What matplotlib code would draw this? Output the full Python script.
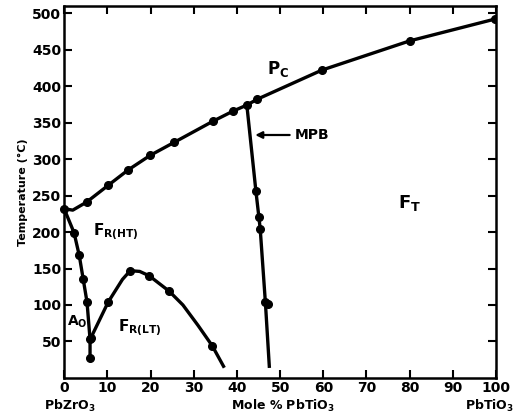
import numpy as np
import matplotlib.pyplot as plt

# Pc / ferroelectric boundary (Curie line)
curie_x = [0, 2, 5.2, 10.2, 14.8, 19.9, 25.5, 34.5, 39.2, 42.3, 44.7, 59.7, 80.0, 99.8]
curie_t = [232, 230, 241, 264, 285, 305, 323, 352, 366, 374, 382, 422, 462, 492]
curie_dots_x = [5.2, 10.2, 14.8, 19.9, 25.5, 34.5, 39.2, 42.3, 44.7, 59.7, 80.0, 99.8]
curie_dots_t = [241, 264, 285, 305, 323, 352, 366, 374, 382, 422, 462, 492]

# antiferroelectric / ferroelectric boundary
ao_x = [0, 2.3, 3.5, 4.4, 5.3, 6.0, 6.0]
ao_t = [232, 199, 168, 136, 104, 53, 28]

# FR(HT) / FR(LT) boundary
lt_x = [6.2, 10.2, 13.5, 15.3, 17.5, 19.7, 24.3, 27.5, 31.0, 34.3, 36.9]
lt_t = [55, 104, 135, 147, 146, 140, 119, 100, 72, 44, 16]
lt_dots_x = [6.2, 10.2, 15.3, 19.7, 24.3, 34.3]
lt_dots_t = [55, 104, 147, 140, 119, 44]

# morphotropic phase boundary
mpb_x = [42.3, 44.4, 45.1, 45.4, 46.6, 47.5]
mpb_t = [374, 256, 220, 204, 103, 16]
mpb_dots_x = [44.4, 45.1, 45.4, 46.5, 47.3]
mpb_dots_t = [256, 220, 204, 104, 102]

xticks = list(range(0, 101, 10))
yticks = list(range(50, 501, 50))

plt.rcParams['font.family'] = 'DejaVu Sans'
plt.rcParams['font.weight'] = 'bold'

fig = plt.figure(figsize=(5.13, 4.19), dpi=100)
ax = fig.add_axes([0.125, 0.098, 0.842, 0.888])

lw = 2.4
ax.plot(curie_x, curie_t, color='black', lw=lw)
ax.plot(curie_dots_x, curie_dots_t, 'o', color='black', ms=5.5)
ax.plot([0], [232], 'o', color='black', ms=5.5, clip_on=False)
ax.plot(ao_x, ao_t, color='black', lw=lw)
ax.plot(ao_x[1:], ao_t[1:], 'o', color='black', ms=5.5)
ax.plot(lt_x, lt_t, color='black', lw=lw)
ax.plot(lt_dots_x, lt_dots_t, 'o', color='black', ms=5.5)
ax.plot(mpb_x, mpb_t, color='black', lw=lw)
ax.plot(mpb_dots_x, mpb_dots_t, 'o', color='black', ms=5.5)

ax.annotate('MPB', xy=(43.6, 333), xytext=(53.5, 333), fontsize=10,
            fontweight='bold', va='center',
            arrowprops=dict(arrowstyle='-|>', color='black', lw=1.6,
                            mutation_scale=10))

ax.text(49.5, 423, r'$\mathbf{P_C}$', fontsize=12, ha='center', va='center')
ax.text(80, 240, r'$\mathbf{F_T}$', fontsize=13, ha='center', va='center')
ax.text(12, 199, r'$\mathbf{F_{R(HT)}}$', fontsize=11, ha='center', va='center')
ax.text(17.5, 68, r'$\mathbf{F_{R(LT)}}$', fontsize=11, ha='center', va='center')
ax.text(3.0, 77, r'$\mathbf{A_O}$', fontsize=10, ha='center', va='center')

ax.set_xlim(0, 100)
ax.set_ylim(0, 510)
ax.set_xticks(xticks)
ax.set_yticks(yticks)
ax.tick_params(direction='in', length=6, width=1.5, top=True, right=True,
               labelsize=10, pad=2)
ax.tick_params(labeltop=False, labelright=False)
for lab in ax.get_xticklabels() + ax.get_yticklabels():
    lab.set_fontweight('bold')
for s in ax.spines.values():
    s.set_linewidth(1.8)

ax.set_ylabel('Temperature (°C)', fontsize=8, fontweight='bold', labelpad=3)
fig.text(0.135, 0.03, r'$\mathbf{PbZrO_3}$', fontsize=9, ha='center', va='center')
fig.text(0.552, 0.03, r'$\mathbf{Mole\ \%\ PbTiO_3}$', fontsize=9, ha='center', va='center')
fig.text(0.955, 0.03, r'$\mathbf{PbTiO_3}$', fontsize=9, ha='center', va='center')

fig.savefig('out.png', dpi=100)
